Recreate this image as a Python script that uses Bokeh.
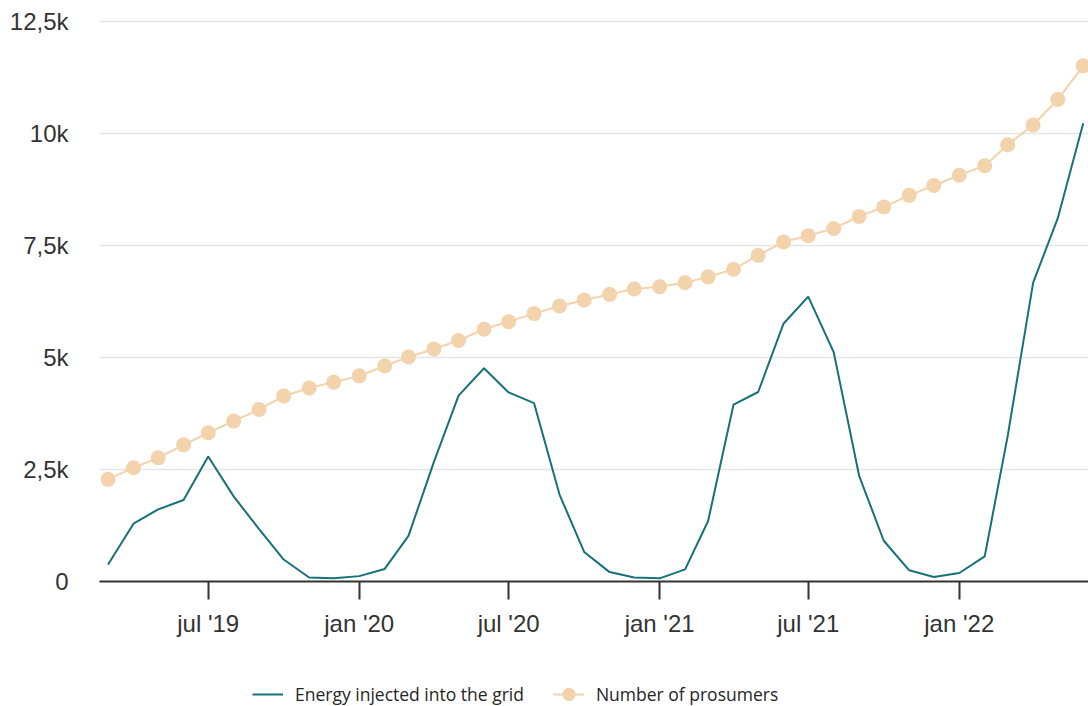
import pandas as pd
from bokeh.plotting import figure
from bokeh.layouts import column
from bokeh.models import (Range1d, FixedTicker, CustomJSTickFormatter, Legend, LegendItem)
from bokeh.embed import file_html
from bokeh.resources import INLINE

# ---- data -------------------------------------------------------------
months = pd.date_range("2019-03-01", "2022-06-01", freq="MS")

energy = [380, 1290, 1610, 1820, 2790, 1900, 1170, 490, 90, 70,
          120, 280, 1020, 2670, 4150, 4760, 4220, 3980, 1940, 660, 210, 90,
          70, 270, 1350, 3950, 4230, 5760, 6360, 5120, 2360, 910, 250, 100,
          190, 560, 3250, 6670, 8110, 10230]

prosumers = [2280, 2540, 2760, 3050, 3320, 3580, 3840, 4140, 4320, 4450,
             4590, 4810, 5010, 5190, 5380, 5630, 5800, 5980, 6150, 6280, 6410, 6530,
             6580, 6670, 6800, 6970, 7280, 7580, 7720, 7880, 8150, 8360, 8620, 8840,
             9070, 9280, 9750, 10190, 10760, 11510]

x_tick_dates = ["2019-07-01", "2020-01-01", "2020-07-01", "2021-01-01", "2021-07-01", "2022-01-01"]
x_tick_labels = ["jul '19", "jan '20", "jul '20", "jan '21", "jul '21", "jan '22"]

y_ticks = [0, 2500, 5000, 7500, 10000, 12500]
y_tick_labels = ["0", "2,5k", "5k", "7,5k", "10k", "12,5k"]

series_names = ["Energy injected into the grid", "Number of prosumers"]

# ---- styling ----------------------------------------------------------
TEAL = "#177179"
PEACH = "#f2d3ab"
TXT = "#333333"

x_tick_ms = [float(pd.Timestamp(d).value // 10**6) for d in x_tick_dates]

LOOKUP = """
for (let i = 0; i < tk.length; i++) { if (Math.abs(tk[i] - tick) < 1) return lb[i]; }
return '';
"""

p = figure(width=1088, height=650, x_axis_type="datetime",
           output_backend="svg", toolbar_location=None,
           x_range=Range1d(pd.Timestamp("2019-02-18 14:00"), pd.Timestamp("2022-06-07 10:00")),
           y_range=Range1d(0, 12701),
           min_border_left=99, min_border_right=0, min_border_top=12, min_border_bottom=69)
p.outline_line_color = None
p.background_fill_color = "white"
p.border_fill_color = "white"

# grid
p.xgrid.grid_line_color = None
p.ygrid.grid_line_color = "#e5e5e5"
p.ygrid.grid_line_width = 1.5

# y axis
p.yaxis.ticker = FixedTicker(ticks=y_ticks)
p.yaxis.formatter = CustomJSTickFormatter(args=dict(tk=y_ticks, lb=y_tick_labels), code=LOOKUP)
p.yaxis.axis_line_color = None
p.yaxis.major_tick_line_color = None
p.yaxis.minor_tick_line_color = None
p.yaxis.major_tick_out = 0
p.yaxis.major_tick_in = 0
p.yaxis.major_label_standoff = 31
p.yaxis.major_label_text_font = "Liberation Sans"
p.yaxis.major_label_text_font_size = "24px"
p.yaxis.major_label_text_color = TXT

# x axis
p.xaxis.ticker = FixedTicker(ticks=x_tick_ms)
p.xaxis.formatter = CustomJSTickFormatter(args=dict(tk=x_tick_ms, lb=x_tick_labels), code=LOOKUP)
p.xaxis.axis_line_color = TXT
p.xaxis.axis_line_width = 2
p.xaxis.major_tick_line_color = TXT
p.xaxis.major_tick_line_width = 2
p.xaxis.major_tick_out = 18
p.xaxis.major_tick_in = 0
p.xaxis.minor_tick_line_color = None
p.xaxis.major_label_standoff = 10
p.xaxis.major_label_text_font = "Liberation Sans"
p.xaxis.major_label_text_font_size = "24px"
p.xaxis.major_label_text_color = TXT

# series
p.line(months, prosumers, line_color=PEACH, line_width=2)
p.scatter(months, prosumers, size=15, fill_color=PEACH, line_color=None)
p.line(months, energy, line_color=TEAL, line_width=2)

# ---- legend strip (below the chart) -----------------------------------
# the key renderers reuse the series; their data lies far outside this strip's ranges
lg = figure(width=1088, height=56, output_backend="svg", toolbar_location=None,
            x_range=Range1d(0, 1), y_range=Range1d(0, 1),
            x_axis_location=None, y_axis_location=None,
            min_border_left=0, min_border_right=0, min_border_top=0, min_border_bottom=0)
lg.outline_line_color = None
lg.xgrid.grid_line_color = None
lg.ygrid.grid_line_color = None

k_energy = lg.line(months, energy, line_color=TEAL, line_width=2)
k_pros_line = lg.line(months, prosumers, line_color=PEACH, line_width=2)
k_pros_dot = lg.scatter(months, prosumers, fill_color=PEACH, line_color=PEACH, line_width=1)

legend = Legend(items=[LegendItem(label=series_names[0], renderers=[k_energy]),
                       LegendItem(label=series_names[1], renderers=[k_pros_line, k_pros_dot])],
                orientation="horizontal", location=(153, -5),
                glyph_width=31, glyph_height=34, label_standoff=12, spacing=29,
                padding=0, margin=0, border_line_color=None, background_fill_alpha=0,
                label_text_font="Open Sans", label_text_font_size="17.5px", label_text_color="#262626")
lg.add_layout(legend, "center")

open("out.html", "w").write(file_html(column(p, lg), INLINE))
